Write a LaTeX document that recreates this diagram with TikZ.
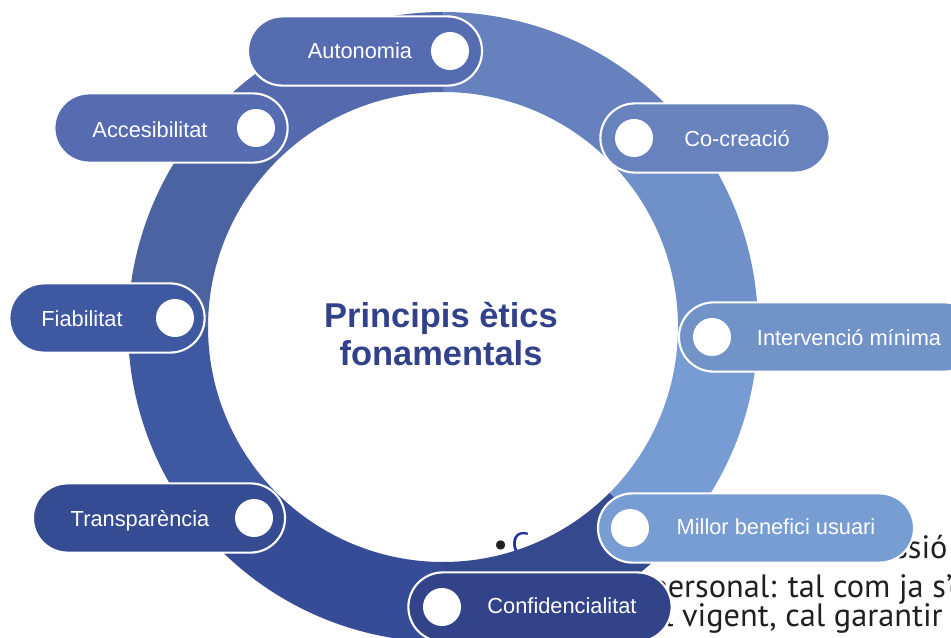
\documentclass[tikz,border=0pt]{standalone}
\usepackage{fontspec}
\usepackage{tikz}
\usetikzlibrary{shapes.misc}
\setmainfont{Liberation Sans}
\newfontfamily\pagefont{PT Sans}

\definecolor{segTop}{RGB}{103,129,190}
\definecolor{segUpRight}{RGB}{111,144,200}
\definecolor{segDownRight}{RGB}{118,156,211}
\definecolor{segBottomRight}{RGB}{53,73,143}
\definecolor{segBottomLeft}{RGB}{54,76,150}
\definecolor{segDownLeft}{RGB}{63,88,162}
\definecolor{segUpLeft}{RGB}{75,99,160}
\definecolor{segTopLeft}{RGB}{84,105,174}
\definecolor{autonomiaCol}{RGB}{86,108,177}
\definecolor{accesCol}{RGB}{86,107,176}
\definecolor{cocreacioCol}{RGB}{104,130,190}
\definecolor{fiabCol}{RGB}{63,88,162}
\definecolor{intervCol}{RGB}{114,147,200}
\definecolor{transpCol}{RGB}{53,75,146}
\definecolor{millorCol}{RGB}{120,157,211}
\definecolor{confCol}{RGB}{51,67,138}
\definecolor{titleCol}{RGB}{50,66,138}
\definecolor{pageInk}{RGB}{35,31,32}
\definecolor{pageBlue}{RGB}{28,48,160}

\begin{document}
\begin{tikzpicture}[x=0.025cm, y=-0.025cm,
  pill/.style={rounded rectangle, draw=white, line width=1.5pt, minimum height=1.73cm, inner sep=0pt},
  hole/.style={circle, fill=white, minimum size=0.95cm, inner sep=0pt},
  pilltext/.style={text=white, text height=11pt, text depth=0pt, inner sep=0pt, font=\fontsize{15.5}{18}\selectfont},
  pageline/.style={text=pageInk, inner sep=0pt, font=\pagefont\fontsize{23}{27}\selectfont},
  segment/.style={line width=2cm}]
  \clip (0,0) rectangle (951,637);
  \coordinate (centre) at (443,327);

  % Page text behind the ring
  \node[pageline, anchor=base west] (bullet) at (493,555) {•};
  \node[pageline, anchor=base west, text=pageBlue] (lineOne) at (511,555) {C};
  \node[pageline, anchor=base west] (lineOneEnd) at (894,558) {ssió};
  \node[pageline, anchor=base west] (lineTwo) at (650,597) {personal: tal com ja s’e};
  \node[pageline, anchor=base east] (lineThree) at (943,626) {al vigent, cal garantir};

  % Ring
  \draw[segment, segTop] (centre) ++(270:275) arc[start angle=270, end angle=315, radius=275];
  \draw[segment, segUpRight] (centre) ++(315:275) arc[start angle=315, end angle=360, radius=275];
  \draw[segment, segDownRight] (centre) ++(0:275) arc[start angle=0, end angle=45, radius=275];
  \draw[segment, segBottomRight] (centre) ++(45:275) arc[start angle=45, end angle=90, radius=275];
  \draw[segment, segBottomLeft] (centre) ++(90:275) arc[start angle=90, end angle=135, radius=275];
  \draw[segment, segDownLeft] (centre) ++(135:275) arc[start angle=135, end angle=180, radius=275];
  \draw[segment, segUpLeft] (centre) ++(180:275) arc[start angle=180, end angle=225, radius=275];
  \draw[segment, segTopLeft] (centre) ++(225:275) arc[start angle=225, end angle=270, radius=275];

  % Nodes
  \node[pill, fill=autonomiaCol, minimum width=5.85cm] (autonomia) at (365,51) {};
  \node[hole] (autonomiaDot) at (450,51) {};
  \node[pilltext] (autonomiaText) at (360,51) {Autonomia};

  \node[pill, fill=accesCol, minimum width=5.83cm] (acces) at (171,128) {};
  \node[hole] (accesDot) at (256,128) {};
  \node[pilltext] (accesText) at (150,130) {Accesibilitat};

  \node[pill, fill=cocreacioCol, minimum width=5.73cm] (cocreacio) at (715,138) {};
  \node[hole] (cocreacioDot) at (634,138) {};
  \node[pilltext] (cocreacioText) at (737,139) {Co-creació};

  \node[pill, fill=fiabCol, minimum width=4.88cm] (fiab) at (107,318) {};
  \node[hole] (fiabDot) at (175,318) {};
  \node[pilltext] (fiabText) at (82,319) {Fiabilitat};

  \node[pill, fill=intervCol, minimum width=7.5cm] (interv) at (829,337) {};
  \node[hole] (intervDot) at (712,337) {};
  \node[pilltext] (intervText) at (849,338) {Intervenció mínima};

  \node[pill, fill=transpCol, minimum width=6.3cm] (transp) at (159,518) {};
  \node[hole] (transpDot) at (254,518) {};
  \node[pilltext] (transpText) at (140,519) {Transparència};

  \node[pill, fill=millorCol, minimum width=7.9cm] (millor) at (756,528) {};
  \node[hole] (millorDot) at (630,528) {};
  \node[pilltext] (millorText) at (776,527) {Millor benefici usuari};

  \node[pill, fill=confCol, minimum width=6.58cm] (conf) at (540,607) {};
  \node[hole] (confDot) at (442,607) {};
  \node[pilltext] (confText) at (562,606) {Confidencialitat};

  % Title
  \node[text=titleCol, align=center, font=\bfseries\fontsize{24.5}{26.5}\selectfont] (title) at (441,334) {Principis ètics\\fonamentals};
\end{tikzpicture}
\end{document}
